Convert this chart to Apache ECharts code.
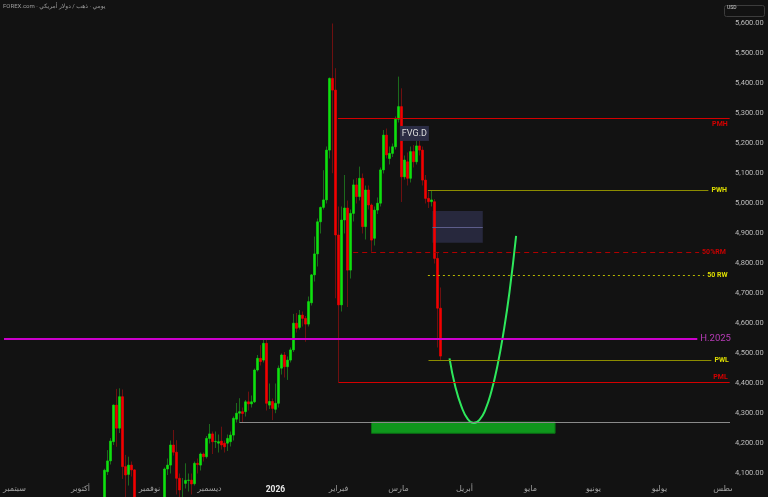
<!DOCTYPE html>
<html><head><meta charset="utf-8">
<script src="https://cdn.jsdelivr.net/npm/echarts@6/dist/echarts.min.js"></script>
<style>html,body{margin:0;padding:0;background:#121212}#c{width:768px;height:497px}</style>
</head><body><div id="c"></div>
<script>
// ---- categories (daily trading sessions) ----
const firstDay = '2025-08-27', lastDay = '2026-08-03';
const holidays = ['2025-12-25', '2026-01-01'];
const monthNames = ['يناير','فبراير','مارس','أبريل','مايو','يونيو','يوليو','أغسطس','سبتمبر','أكتوبر','نوفمبر','ديسمبر'];
const yearLabel = '2026';
const dataStart = '2025-10-13';

// ---- OHLC (from 2025-10-13) ----
const openP  = [4018,4106,4142,4206,4328,4251,4356,4123,4097,4128,4112,3988,3952,3930,4024,4002,4000,3932,3980,3977,4000,4115,4128,4195,4171,4084,4045,4067,4077,4078,4066,4134,4128,4165,4156,4217,4232,4206,4201,4208,4201,4201,4206,4228,4281,4301,4306,4306,4339,4332,4339,4445,4484,4478,4534,4328,4340,4314,4334,4451,4495,4456,4478,4512,4601,4587,4628,4617,4598,4669,4762,4832,4939,4987,5012,5178,5417,5378,4895,4662,4945,4985,4778,4967,5062,5023,5084,4923,5045,4995,4884,4978,5001,5112,5228,5150,5167,5189,5281,5323,5089,5139,5084,5173,5139,5192,5178,5078,5017,5006,5006,4817,4651];
const closeP = [4111,4142,4208,4328,4251,4356,4123,4095,4128,4112,3988,3952,3930,4024,4002,4000,3932,3980,3977,4000,4115,4128,4195,4171,4084,4045,4067,4077,4078,4065,4134,4130,4165,4156,4217,4232,4206,4207,4206,4195,4189,4217,4228,4284,4301,4306,4300,4339,4332,4339,4445,4484,4473,4534,4334,4340,4317,4334,4451,4495,4456,4478,4512,4601,4584,4628,4617,4598,4673,4762,4832,4939,4987,5012,5178,5417,5378,4895,4662,4945,4985,4778,4967,5062,5023,5084,4923,5045,4995,4878,4978,5001,5112,5228,5162,5167,5189,5281,5323,5089,5145,5084,5173,5139,5192,5178,5078,5017,5006,5012,4817,4651,4491.39];
const lowP   = [4008,4095,4130,4195,4189,4235,4082,4004,4060,4090,3970,3886,3915,3920,3980,3960,3930,3930,3970,3960,3995,4095,4100,4160,4030,4010,4000,4050,4040,4030,4060,4100,4110,4140,4150,4200,4165,4185,4170,4180,4170,4175,4190,4210,4270,4270,4270,4290,4310,4320,4335,4440,4460,4470,4310,4315,4278,4301,4320,4430,4420,4412,4470,4505,4570,4580,4590,4539,4590,4660,4740,4790,4900,4980,5000,5150,5101,4684,4404,4640,4900,4655,4750,4940,5000,5010,4900,4880,4980,4839,4860,4965,4990,5100,5150,5130,5155,5180,5270,5005,5080,5060,5070,5120,5130,5160,5060,5000,4985,4990,4800,4520,4478];
const highP  = [4116,4178,4218,4330,4382,4384,4380,4162,4156,4140,4115,4000,4030,4030,4050,4030,4010,4000,4030,4020,4120,4150,4210,4245,4211,4100,4085,4134,4100,4100,4140,4150,4170,4170,4225,4265,4240,4240,4230,4256,4210,4230,4240,4290,4335,4351,4320,4345,4373,4360,4450,4495,4528,4549,4548,4400,4350,4400,4460,4500,4505,4490,4520,4632,4635,4645,4640,4625,4690,4765,4890,4950,4990,5111,5190,5420,5600,5451,4990,4990,5095,5010,4980,5080,5085,5123,5100,5060,5060,5000,4990,5020,5120,5245,5250,5190,5200,5290,5423,5384,5160,5170,5190,5195,5210,5215,5190,5095,5040,5045,5015,4835,4720];

// ---- levels ----
const levelNames  = ['PMH', 'PML', 'PWH', 'PWL', '50%RM', '50 RW', 'H.2025'];
const levelValues = [5284, 4404, 5045, 4477, 4839, 4762, 4550];
const levelFrom   = [110.8, 111.0, 140.8, 141.0, 115.9, 140.8, -0.5];
const levelTo     = [241.4, 241.4, 234.3, 235.3, 231.2, 232.9, 230.6];
const lastPrice = 4491.39;
const refPrice = 4271.67;
const refFrom = 78;

// ---- zones ----
const fvgZone = [142.3, 159.1, 4869, 4975];
const fvgMid = 4922;
const targetZone = [122.0, 183.2, 4234, 4271.67];
const fvgTag = [136.3, 5233.5];

// ---- projected path ----
const curveX = [148, 150, 152, 154, 156, 158, 160, 162, 164, 166, 168, 170.2];
const curveY = [4484, 4387, 4323, 4283, 4268, 4279, 4314, 4375, 4460, 4570, 4705, 4892];

// ---------------------------------------------------------------
const cats = [];
(function(){
  const d = new Date(firstDay + 'T00:00:00Z'), end = new Date(lastDay + 'T00:00:00Z');
  while (d <= end) {
    const wd = d.getUTCDay(), s = d.toISOString().slice(0, 10);
    if (wd !== 0 && wd !== 6 && holidays.indexOf(s) < 0) cats.push(s);
    d.setUTCDate(d.getUTCDate() + 1);
  }
})();
const monthStart = new Set();
for (let i = 1; i < cats.length; i++) if (cats[i].slice(5, 7) !== cats[i - 1].slice(5, 7)) monthStart.add(i);
const i0 = cats.indexOf(dataStart);
const wickData = openP.map((o, k) => [i0 + k, o, closeP[k], lowP[k], highP[k]]);
const bodyData = openP.map((o, k) => [i0 + k, o, closeP[k], Math.min(o, closeP[k]), Math.max(o, closeP[k])]);
const nCat = cats.length;

const yMin = 4071.67, yMax = 5678.33;
const fmt = v => v.toLocaleString('en-US', {minimumFractionDigits: 2, maximumFractionDigits: 2});
const FONT = 'Roboto, "DejaVu Sans", sans-serif';

const levelStyle = {
  'PMH':   {c: '#d40000', lc: '#d40000', w: 1, t: 'solid', pos: 'insideEndBottom', fs: 7},
  'PML':   {c: '#d40000', lc: '#d40000', w: 1, t: 'solid', pos: 'insideEndTop', fs: 7},
  'PWH':   {c: '#dede00', lc: '#8c8c00', w: 1, t: 'solid', pos: 'end', fs: 7},
  'PWL':   {c: '#dede00', lc: '#8c8c00', w: 1, t: 'solid', pos: 'end', fs: 7},
  '50%RM': {c: '#c40000', lc: '#b00000', w: 1, t: [5, 4], pos: 'end', fs: 7},
  '50 RW': {c: '#dede00', lc: '#b8b800', w: 1, t: [2, 3], pos: 'end', fs: 7},
  'H.2025':{c: '#b83cb8', lc: '#cc00cc', w: 2, t: 'solid', pos: 'end', fs: 9.5}
};
const mlData = levelNames.map((n, k) => {
  const s = levelStyle[n];
  return [{
    coord: [levelFrom[k], levelValues[k]],
    lineStyle: {color: s.lc, width: s.w, type: s.t},
    label: {show: true, position: s.pos, formatter: n, color: s.c, fontSize: s.fs,
            fontWeight: s.fs < 9 ? 'bold' : 'normal', fontFamily: FONT, distance: s.pos === 'end' ? 3 : 2}
  }, {coord: [levelTo[k], levelValues[k]]}];
});
mlData.push([{coord: [refFrom, refPrice], lineStyle: {color: '#8a8a8a', width: 1, type: 'solid'}, label: {show: false}},
             {coord: [nCat - 0.5, refPrice]}]);
mlData.push([{coord: [fvgZone[0], fvgMid], lineStyle: {color: '#5d5d8a', width: 1, type: 'solid'}, label: {show: false}},
             {coord: [fvgZone[1], fvgMid]}]);
mlData.push({yAxis: lastPrice, lineStyle: {opacity: 0},
  label: {show: true, position: 'end', distance: 0, formatter: fmt(lastPrice), color: '#ffffff', backgroundColor: '#f21c1c',
          padding: [2, 3, 1, 3], fontSize: 7.5, fontFamily: FONT}});
mlData.push({yAxis: refPrice, lineStyle: {opacity: 0},
  label: {show: true, position: 'end', distance: 0, formatter: fmt(refPrice), color: '#1a1a1a', backgroundColor: '#e4e0e0',
          borderColor: '#9a9a9a', borderWidth: 1, padding: [1, 3, 0, 3], fontSize: 7.5, fontFamily: FONT}});

const option = {
  backgroundColor: '#121212',
  animation: false,
  textStyle: {fontFamily: FONT},
  grid: {left: 1, right: 38, top: 0, bottom: 15, containLabel: false},
  xAxis: [{
    type: 'category', data: cats, boundaryGap: true,
    axisLine: {show: false}, axisTick: {show: false}, splitLine: {show: false},
    axisLabel: {
      interval: (i) => monthStart.has(i), margin: 3, color: '#a0a0a0', fontSize: 8, fontFamily: FONT,
      formatter: (v) => { const m = +v.slice(5, 7); return m === 1 ? '{y|' + yearLabel + '}' : monthNames[m - 1]; },
      rich: {y: {fontWeight: 'bold', color: '#e6e6e6', fontSize: 8.5, fontFamily: FONT}}
    }
  }, {
    type: 'value', min: -0.5, max: nCat - 0.5, show: false
  }],
  yAxis: {
    type: 'value', position: 'right', min: yMin, max: yMax, splitNumber: 16, minInterval: 100, maxInterval: 100,
    axisLine: {show: false}, axisTick: {show: false}, splitLine: {show: false},
    axisLabel: {color: '#bcbcbc', fontSize: 7.5, margin: 5, fontFamily: FONT, showMinLabel: false, showMaxLabel: false,
                formatter: v => (Math.abs(v % 100) < 0.01 ? fmt(v) : '')}
  },
  graphic: [
    {type: 'text', left: 3, top: 3, style: {text: 'FOREX.com · يومي · ذهب / دولار أمريكي', fill: '#9c9c9c', fontSize: 6, fontFamily: FONT}},
    {type: 'rect', left: 722, top: 3, shape: {width: 40, height: 11, r: 2}, style: {fill: 'none', stroke: '#3c3c3c', lineWidth: 1}},
    {type: 'text', left: 727, top: 5.5, style: {text: 'USD', fill: '#cfcfcf', fontSize: 5, fontFamily: FONT}},
    {type: 'rect', left: 732, top: 483, z: 100, shape: {width: 36, height: 14}, style: {fill: '#121212'}}
  ],
  series: [
    {
      name: 'zones', type: 'line', xAxisIndex: 1, data: [], silent: true,
      markArea: {silent: true, data: [
        [{coord: [fvgZone[0], fvgZone[3]], itemStyle: {color: '#27283d'}}, {coord: [fvgZone[1], fvgZone[2]]}],
        [{coord: [targetZone[0], targetZone[3]], itemStyle: {color: '#0f971c', borderColor: '#0b6f14', borderWidth: 1}}, {coord: [targetZone[1], targetZone[2]]}]
      ]}
    },
    {
      name: 'wicks', type: 'candlestick', xAxisIndex: 0, data: wickData, encode: {x: 0, y: [1, 2, 3, 4]},
      barWidth: 1, silent: true, z: 2,
      itemStyle: {color: '#1c6a1c', color0: '#6e1010', borderColor: '#1c6a1c', borderColor0: '#6e1010', borderWidth: 1}
    },
    {
      name: 'bodies', type: 'candlestick', xAxisIndex: 0, data: bodyData, encode: {x: 0, y: [1, 2, 3, 4]},
      barWidth: 2, silent: true, z: 3,
      itemStyle: {color: '#0ee00e', color0: '#f20000', borderColor: '#0ee00e', borderColor0: '#f20000', borderWidth: 0.6}
    },
    {
      name: 'levels', type: 'line', xAxisIndex: 1, silent: true, z: 4,
      data: curveX.map((x, k) => [x, curveY[k]]), smooth: true, showSymbol: false, symbol: 'none',
      lineStyle: {color: '#2ee85c', width: 2},
      markLine: {silent: true, symbol: ['none', 'none'], data: mlData, animation: false}
    },
    {
      name: 'tag', type: 'scatter', xAxisIndex: 1, silent: true, z: 10,
      data: [fvgTag], symbol: 'rect', symbolSize: [29, 15],
      itemStyle: {color: '#2b2c44', opacity: 1},
      label: {show: true, position: 'inside', formatter: 'FVG.D', color: '#dedede', fontSize: 9, fontFamily: FONT}
    }
  ]
};
const chart = echarts.init(document.getElementById('c'), null, {renderer: 'canvas'});
chart.setOption(option);
</script>
</body></html>
